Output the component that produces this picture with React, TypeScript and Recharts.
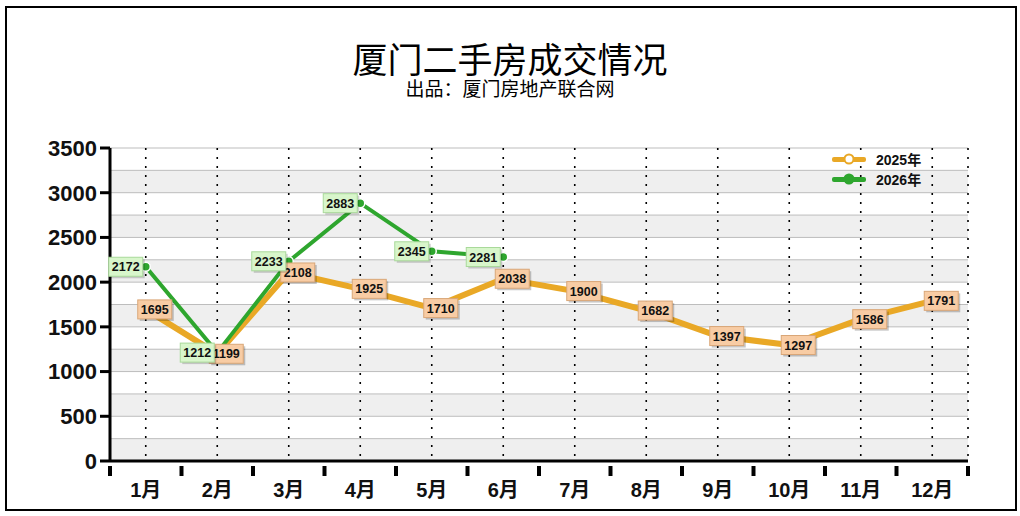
import React from 'react'
import { LineChart, Line, XAxis, YAxis, CartesianGrid, LabelList } from 'recharts'

const months = ['1月', '2月', '3月', '4月', '5月', '6月', '7月', '8月', '9月', '10月', '11月', '12月']
const sales2025 = [1695, 1199, 2108, 1925, 1710, 2038, 1900, 1682, 1397, 1297, 1586, 1791]
const sales2026 = [2172, 1212, 2233, 2883, 2345, 2281]
const yTicks = [0, 500, 1000, 1500, 2000, 2500, 3000, 3500]
const gridLines = [3500, 3250, 3000, 2750, 2500, 2250, 2000, 1750, 1500, 1250, 1000, 750, 500, 250, 0]

const W = 1020
const H = 516
const MARGIN = { top: 148, right: 52, bottom: 25, left: 50 }
const Y_W = 60
const X_H = 30
const Y_MAX = 3500
const PLOT_W = W - MARGIN.left - MARGIN.right - Y_W
const HALF_BAND = PLOT_W / months.length / 2

const ORANGE = '#E9A826'
const GREEN = '#2EA62E'
const FONT = '"Liberation Sans", Arial, "Noto Sans CJK SC", sans-serif'

const data = months.map((m, i) => ({
  month: m,
  y2025: sales2025[i],
  y2026: i < sales2026.length ? sales2026[i] : null,
}))

function XTick(props: any) {
  const { x, y, payload, index } = props
  const axisY = y - 2
  const last = index === months.length - 1
  return (
    <g>
      <line x1={x - HALF_BAND} x2={x - HALF_BAND} y1={axisY - 1} y2={axisY + 9} stroke="#000" strokeWidth={4} />
      {last && <line x1={x + HALF_BAND} x2={x + HALF_BAND} y1={axisY - 1} y2={axisY + 9} stroke="#000" strokeWidth={4} />}
      <text x={x} y={axisY + 30} textAnchor="middle" fontFamily={FONT} fontWeight="bold" fontSize={20} fill="#111">
        {payload.value}
      </text>
    </g>
  )
}

function OrangeLabel(props: any) {
  const { x, y, value } = props
  if (value == null) return null
  const w = 34
  const h = 19
  const cx = x + 9
  return (
    <g>
      <rect x={cx - w / 2 + 2} y={y - h / 2 + 2} width={w} height={h} fill="rgba(0,0,0,0.22)" />
      <rect x={cx - w / 2} y={y - h / 2} width={w} height={h} fill="#F8CCA4" stroke="#D9A677" strokeWidth={1} />
      <text x={cx} y={y + 4.5} textAnchor="middle" fontFamily={FONT} fontWeight="bold" fontSize={12.5} fill="#111">
        {value}
      </text>
    </g>
  )
}

function GreenLabel(props: any) {
  const { x, y, value } = props
  if (value == null) return null
  const w = 34
  const h = 19
  const left = x - 37
  return (
    <g>
      <rect x={left + 2} y={y - h / 2 + 2} width={w} height={h} fill="rgba(0,0,0,0.18)" />
      <rect x={left} y={y - h / 2} width={w} height={h} fill="#D8F6CB" stroke="#A9D99A" strokeWidth={1} />
      <text x={left + w / 2} y={y + 4.5} textAnchor="middle" fontFamily={FONT} fontWeight="bold" fontSize={12.5} fill="#111">
        {value}
      </text>
    </g>
  )
}

function LegendBox() {
  const items = [
    { name: '2025年', color: ORANGE, fill: '#fff' },
    { name: '2026年', color: GREEN, fill: GREEN },
  ]
  return (
    <div style={{ position: 'absolute', left: 830, top: 149, fontFamily: FONT }}>
      {items.map(it => (
        <div key={it.name} style={{ display: 'flex', alignItems: 'center', height: 20 }}>
          <svg width={40} height={14}>
            <rect x={2} y={5} width={34} height={5} rx={2} fill={it.color} />
            <circle cx={19} cy={7} r={4.5} fill={it.fill} stroke={it.color} strokeWidth={2} />
          </svg>
          <span style={{ marginLeft: 6, fontWeight: 'bold', fontSize: 14, color: '#111' }}>{it.name}</span>
        </div>
      ))}
    </div>
  )
}

export default function App() {
  return (
    <div style={{ position: 'absolute', left: 0, top: 0, width: W, height: H, background: '#fff' }}>
      <div style={{ position: 'absolute', left: 5, top: 6, width: 1012, height: 505, border: '2px solid #000', boxSizing: 'border-box' }} />
      <div style={{ position: 'absolute', left: 0, top: 39, width: W, textAlign: 'center', fontFamily: '"Noto Sans CJK SC", sans-serif', fontSize: 35, lineHeight: '37px', color: '#000' }}>
        厦门二手房成交情况
      </div>
      <div style={{ position: 'absolute', left: 0, top: 77, width: W, textAlign: 'center', fontFamily: '"Noto Sans CJK SC", sans-serif', fontSize: 19, lineHeight: '22px', color: '#000' }}>
        出品：厦门房地产联合网
      </div>
      <div style={{ position: 'absolute', left: 0, top: 0 }}>
        <LineChart width={W} height={H} data={data} margin={MARGIN}>
          <CartesianGrid
            vertical={false}
            stroke="#BDBDBD"
            strokeWidth={1}
            horizontalFill={['#FFFFFF', '#EFEFEF']}
            fillOpacity={1}
            horizontalCoordinatesGenerator={({ offset }: any) =>
              gridLines.map(v => offset.top + offset.height * (1 - v / Y_MAX))
            }
          />
          <CartesianGrid
            horizontal={false}
            stroke="#000"
            strokeWidth={1.6}
            strokeDasharray="2 7"
            verticalCoordinatesGenerator={({ offset }: any) =>
              months.map((_, i) => offset.left + (offset.width * (i + 0.5)) / months.length).concat(offset.left + offset.width)
            }
          />
          <XAxis
            dataKey="month"
            height={X_H}
            padding={{ left: HALF_BAND, right: HALF_BAND }}
            tickLine={false}
            axisLine={{ stroke: '#000', strokeWidth: 3 }}
            tick={<XTick />}
            interval={0}
          />
          <YAxis
            width={Y_W}
            domain={[0, Y_MAX]}
            ticks={yTicks}
            interval={0}
            tickSize={10}
            tickMargin={3}
            axisLine={{ stroke: '#000', strokeWidth: 3 }}
            tickLine={{ stroke: '#000', strokeWidth: 3 }}
            tick={{ fill: '#111', fontSize: 22, fontWeight: 'bold', fontFamily: FONT }}
          />
          <Line dataKey="y2025" name="2025年" stroke={ORANGE} strokeWidth={6} dot={false} isAnimationActive={false} />
          <Line dataKey="y2026" name="2026年" stroke={GREEN} strokeWidth={4} dot={false} isAnimationActive={false} connectNulls={false} />
          <Line dataKey="y2025" legendType="none" stroke="none" dot={false} activeDot={false} isAnimationActive={false}>
            <LabelList dataKey="y2025" content={<OrangeLabel />} />
          </Line>
          <Line
            dataKey="y2026"
            legendType="none"
            stroke="none"
            dot={{ r: 4.5, fill: GREEN, stroke: '#fff', strokeWidth: 1.5 }}
            activeDot={false}
            isAnimationActive={false}
          >
            <LabelList dataKey="y2026" content={<GreenLabel />} />
          </Line>
        </LineChart>
      </div>
      <LegendBox />
    </div>
  )
}
